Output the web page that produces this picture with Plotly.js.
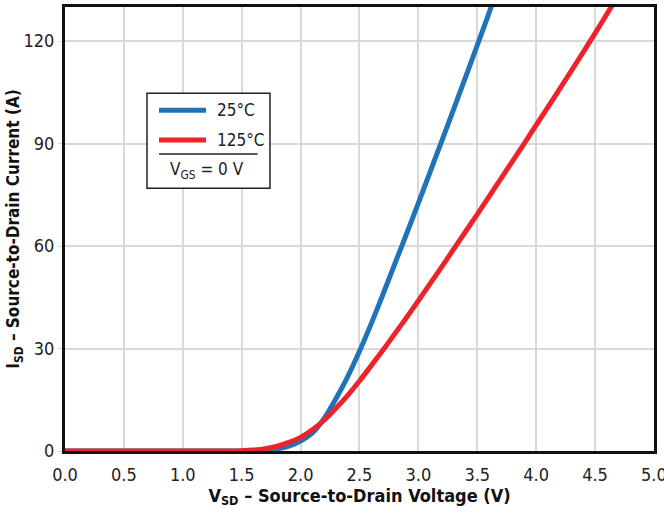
<!DOCTYPE html>
<html>
<head>
<meta charset="utf-8">
<script src="https://cdn.plot.ly/plotly-3.0.1.min.js"></script>
<style>html,body{margin:0;padding:0;background:#fff;}</style>
</head>
<body>
<div id="chart" style="width:664px;height:514px;"></div>
<script>
// Source-to-drain voltage (V)
const vsd = [0, 0.5, 1.0, 1.3, 1.4, 1.5, 1.6, 1.7, 1.8, 1.9, 2.0, 2.1, 2.2, 2.3, 2.4, 2.5, 2.6, 2.7, 2.8, 2.9, 3.0, 3.1, 3.2, 3.3, 3.4, 3.5, 3.6, 3.7, 3.8, 3.9, 4.0, 4.1, 4.2, 4.3, 4.4, 4.5, 4.6, 4.7];
// Source-to-drain current (A) at 25 °C
const isd25 = [0, 0, 0, 0, 0.01, 0.02, 0.07, 0.22, 0.6, 1.4, 2.9, 5.3, 9.5, 15.3, 21.8, 29.2, 37.3, 45.9, 54.8, 63.6, 72.6, 81.7, 90.9, 100.1, 109.4, 118.8, 128.3, 137.9, null, null, null, null, null, null, null, null, null, null];
// Source-to-drain current (A) at 125 °C
const isd125 = [0, 0, 0, 0.01, 0.03, 0.1, 0.3, 0.7, 1.4, 2.5, 4.0, 6.2, 9.0, 12.5, 16.3, 20.5, 25.0, 29.6, 34.3, 39.1, 44.0, 49.0, 54.0, 59.1, 64.2, 69.3, 74.5, 79.7, 84.9, 90.1, 95.4, 100.7, 106.0, 111.4, 116.8, 122.3, 127.9, 133.6];
const seriesNames = ["25°C", "125°C"];
const seriesColors = ["#1f73b9", "#ec2329"];
const xTicks = [0, 0.5, 1.0, 1.5, 2.0, 2.5, 3.0, 3.5, 4.0, 4.5, 5.0];
const yTicks = [0, 30, 60, 90, 120];
const xTitle = "V<sub>SD</sub> – Source-to-Drain Voltage (V)";
const yTitle = "I<sub>SD</sub> – Source-to-Drain Current (A)";
const conditionText = "V<sub>GS</sub> = 0 V";

const FONT = "'DejaVu Sans Condensed', 'Liberation Sans Narrow', sans-serif";

const traces = [
  {x: vsd, y: isd25, name: seriesNames[0], mode: "lines", line: {color: seriesColors[0], width: 5, shape: "spline", smoothing: 0.6}, showlegend: false},
  {x: vsd, y: isd125, name: seriesNames[1], mode: "lines", line: {color: seriesColors[1], width: 5, shape: "spline", smoothing: 0.6}, showlegend: false}
];

// legend drawn in paper coordinates
const lgX0 = 0.1392, lgX1 = 0.348, lgY0 = 0.592, lgY1 = 0.806;
const shapes = [
  {type: "rect", xref: "paper", yref: "paper", x0: lgX0, x1: lgX1, y0: lgY0, y1: lgY1, line: {color: "#222", width: 1.5}, fillcolor: "#fff", layer: "above"},
  {type: "line", xref: "paper", yref: "paper", x0: 0.1596, x1: 0.2394, y0: 0.7673, y1: 0.7673, line: {color: seriesColors[0], width: 5}},
  {type: "line", xref: "paper", yref: "paper", x0: 0.1596, x1: 0.2394, y0: 0.7005, y1: 0.7005, line: {color: seriesColors[1], width: 5}},
  {type: "line", xref: "paper", yref: "paper", x0: 0.1596, x1: 0.327, y0: 0.669, y1: 0.669, line: {color: "#222", width: 1.5}}
];
const annotations = [
  {xref: "paper", yref: "paper", x: 0.254, y: 0.7673, xanchor: "left", yanchor: "middle", text: seriesNames[0], showarrow: false, font: {family: FONT, size: 17, color: "#222"}},
  {xref: "paper", yref: "paper", x: 0.254, y: 0.7005, xanchor: "left", yanchor: "middle", text: seriesNames[1], showarrow: false, font: {family: FONT, size: 17, color: "#222"}},
  {xref: "paper", yref: "paper", x: 0.2419, y: 0.631, xanchor: "center", yanchor: "middle", text: conditionText, showarrow: false, font: {family: FONT, size: 17, color: "#222"}}
];

const layout = {
  width: 664, height: 514,
  margin: {l: 65, r: 10, t: 7, b: 63},
  paper_bgcolor: "#fff", plot_bgcolor: "#fff",
  font: {family: FONT, size: 18, color: "#222"},
  xaxis: {
    range: [0, 5.0005], tickvals: xTicks, ticktext: xTicks.map(v => v.toFixed(1)),
    showgrid: true, gridcolor: "#d9d9d9", gridwidth: 2, zeroline: false,
    showline: true, linecolor: "#111", linewidth: 3, mirror: true,
    ticks: "", layer: "below traces", ticklabelstandoff: 5, ticklabeloverflow: "allow",
    tickfont: {family: FONT, size: 18, color: "#222"},
    title: {text: xTitle, font: {family: FONT, size: 18, color: "#111", weight: "bold"}, standoff: 6}
  },
  yaxis: {
    range: [0, 130], tickvals: yTicks,
    showgrid: true, gridcolor: "#d9d9d9", gridwidth: 2, zeroline: false,
    showline: true, linecolor: "#111", linewidth: 3, mirror: true,
    ticks: "outside", ticklen: 4, tickcolor: "#d9d9d9", tickwidth: 1, layer: "below traces",
    tickfont: {family: FONT, size: 18, color: "#222"},
    title: {text: yTitle, font: {family: FONT, size: 17, color: "#111", weight: "bold"}, standoff: 0}
  },
  shapes: shapes,
  annotations: annotations,
  showlegend: false
};

Plotly.newPlot("chart", traces, layout, {displayModeBar: false, staticPlot: true});
</script>
</body>
</html>
